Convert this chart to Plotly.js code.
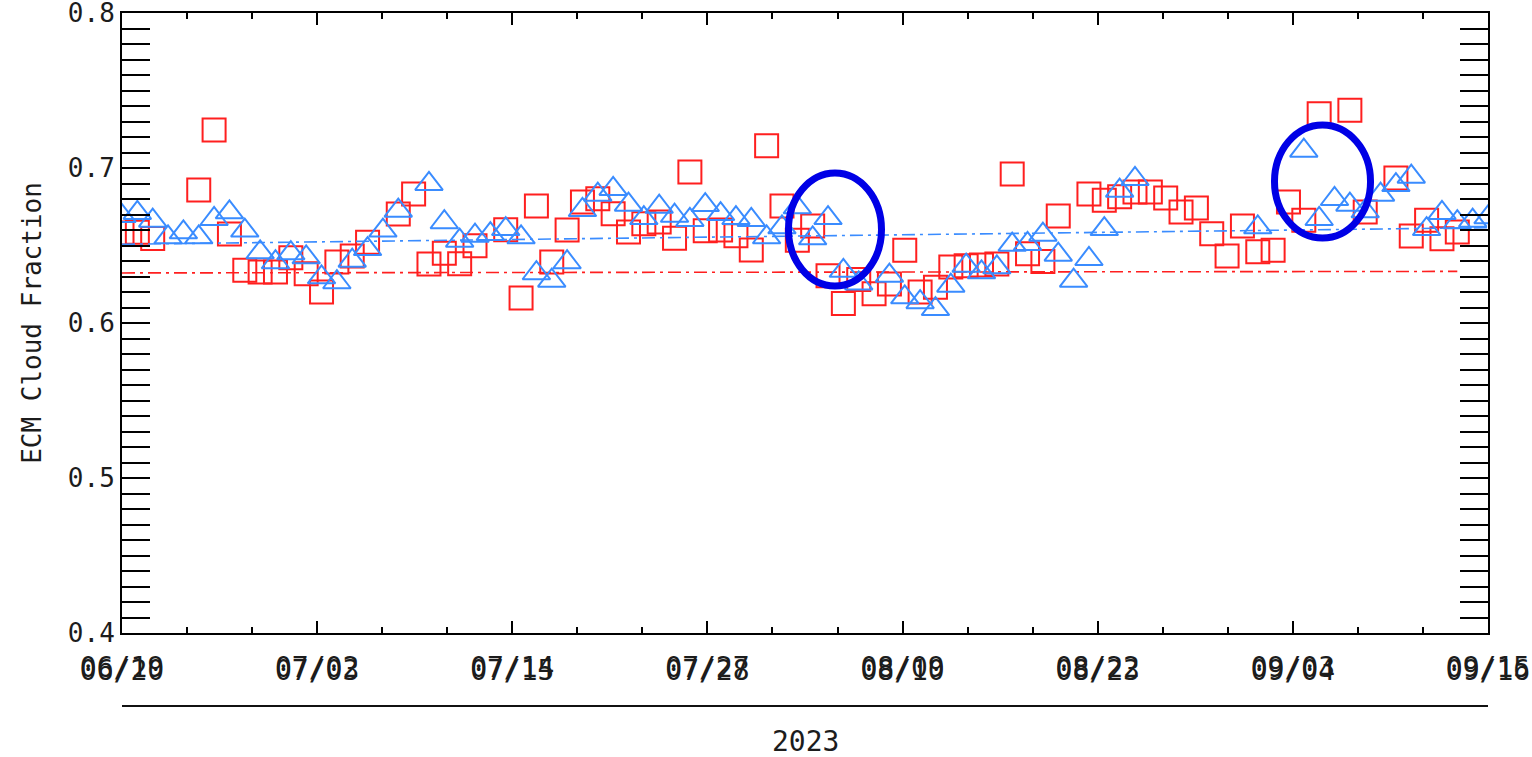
<!DOCTYPE html>
<html>
<head>
<meta charset="utf-8">
<script src="https://cdn.plot.ly/plotly-3.0.1.min.js"></script>
<style>
  html, body { margin: 0; padding: 0; background: #ffffff; }
  #chart { width: 1532px; height: 757px; }
</style>
</head>
<body>
<div id="chart"></div>
<script>
// Daily ECM cloud fraction, one value per day starting at startDate (null = no value that day)
const startDate = '2023-06-19';
const endDate = '2023-09-16';

const squareFrac = [
  0.658, 0.6585, 0.6545, null, null, 0.6858, 0.7245, 0.6574, 0.634, 0.6329,
  0.6329, 0.6421, 0.6318, 0.620, 0.6394, 0.6432, 0.6521, null, 0.6703, 0.6832,
  0.6381, 0.645, 0.6383, 0.6499, null, 0.6602, 0.6161, 0.6755, 0.6394, 0.660,
  0.6781, 0.6802, 0.6705, 0.6587, 0.6641, 0.6652, 0.6546, 0.6974, 0.6595, 0.660,
  0.6563, 0.6471, 0.7144, 0.6755, 0.6534, 0.6626, 0.6305, 0.6125, 0.628, 0.6189,
  0.6252, 0.6469, 0.620, 0.623, 0.6361, 0.637, 0.6374, 0.6381, 0.6961, 0.6447,
  0.6396, 0.669, null, 0.6832, 0.6792, 0.6815, 0.6845, 0.6845, 0.6806, 0.6716,
  0.6742, 0.6576, 0.6432, 0.6626, 0.646, 0.6469, 0.6781, 0.6663, 0.735, null,
  0.7372, 0.6716, null, 0.6935, 0.6561, 0.6663, 0.6544, 0.6587
];

const triangleFrac = [
  0.669, 0.671, 0.666, 0.6553, 0.6585, 0.6553, 0.6671, 0.6714, 0.6596, 0.6456,
  0.6392, 0.645, 0.6424, 0.6295, 0.6263, 0.6402, 0.6477, 0.6596, 0.6725, null,
  0.6897, 0.665, 0.6531, 0.6563, 0.6574, 0.6606, 0.6553, 0.6321, 0.6273, 0.6392,
  0.6729, 0.6828, 0.6865, 0.6763, 0.6677, 0.675, 0.6692, 0.6665, 0.6761, 0.6703,
  0.6677, 0.6665, 0.6553, 0.6617, 0.6746, 0.6546, 0.6677, 0.6337, 0.6255, null,
  0.6305, 0.6166, 0.6134, 0.609, 0.6241, 0.637, 0.6327, 0.6359, 0.6505, 0.651,
  0.657, 0.6441, 0.6273, 0.6413, 0.6606, 0.6854, 0.6929, null, null, null,
  null, null, null, null, 0.6617, null, null, 0.7112, 0.6671, 0.68,
  0.6763, 0.6721, 0.6828, 0.689, 0.6944, 0.6606, 0.671, 0.665, 0.666, 0.6682
];

// Straight-line fits over each series' span (day offsets and fitted values)
const squareTrendDays = [0, 87];
const squareTrend = [0.6323, 0.6333];
const triangleTrendDays = [0, 89];
const triangleTrend = [0.6508, 0.6615];

// Date labels of the two overprinted time axes
const tickLabelsA = ['06/19', '07/02', '07/14', '07/27', '08/09', '08/22', '09/03', '09/15'];
const tickLabelsB = ['06/20', '07/03', '07/15', '07/28', '08/10', '08/23', '09/04', '09/16'];
const yTicks = [0.4, 0.5, 0.6, 0.7, 0.8];
const yearLabel = '2023';
const yTitle = 'ECM Cloud Fraction';

const DAY_MS = 86400000;
const t0 = Date.parse(startDate + 'T00:00:00Z');
const t1 = Date.parse(endDate + 'T00:00:00Z');
const toDate = ms => new Date(ms).toISOString().slice(0, 19).replace('T', ' ');
const dayToDate = d => toDate(t0 + d * DAY_MS);

const squareDates = squareFrac.map((_, i) => dayToDate(i));
const triangleDates = triangleFrac.map((_, i) => dayToDate(i));

// Eight evenly spaced major ticks across the span, two minor ticks between each pair
const nMajor = tickLabelsA.length;
const step = (t1 - t0) / (nMajor - 1);
const majorVals = [];
const minorVals = [];
for (let i = 0; i < nMajor; i++) {
  majorVals.push(toDate(t0 + i * step));
  if (i < nMajor - 1) {
    minorVals.push(toDate(t0 + (i + 1 / 3) * step));
    minorVals.push(toDate(t0 + (i + 2 / 3) * step));
  }
}

const FONT = 'DejaVu Sans Mono';
const INK = '#1c1c1c';
const RED = '#ff1f1f';
const BLUE = '#3a8cff';
const DASHDOT = '13px,5px,3px,5px';

const traces = [
  {
    x: squareDates, y: squareFrac, xaxis: 'x', yaxis: 'y',
    type: 'scatter', mode: 'markers',
    marker: { symbol: 'square-open', size: 23, color: RED, line: { width: 2, color: RED } },
    hoverinfo: 'skip'
  },
  {
    x: triangleDates, y: triangleFrac, xaxis: 'x2', yaxis: 'y',
    type: 'scatter', mode: 'markers',
    marker: { symbol: 'triangle-up-open', size: 24, color: BLUE, line: { width: 2, color: BLUE } },
    hoverinfo: 'skip'
  },
  {
    x: squareTrendDays.map(dayToDate), y: squareTrend, xaxis: 'x', yaxis: 'y',
    type: 'scatter', mode: 'lines',
    line: { color: RED, width: 1.6, dash: DASHDOT },
    hoverinfo: 'skip'
  },
  {
    x: triangleTrendDays.map(dayToDate), y: triangleTrend, xaxis: 'x2', yaxis: 'y',
    type: 'scatter', mode: 'lines',
    line: { color: BLUE, width: 1.6, dash: DASHDOT },
    hoverinfo: 'skip'
  }
];

const xRange = [toDate(t0), toDate(t1)];
const tickFontX = { family: FONT, size: 28, color: INK };
const tickFontY = { family: FONT, size: 26, color: INK };

const layout = {
  width: 1532,
  height: 757,
  margin: { l: 122, r: 44, t: 13, b: 124, pad: 0 },
  paper_bgcolor: '#ffffff',
  plot_bgcolor: '#ffffff',
  showlegend: false,
  xaxis: {
    type: 'date', range: xRange, fixedrange: true,
    tickmode: 'array', tickvals: majorVals, ticktext: tickLabelsA,
    ticks: 'inside', ticklen: 12, tickwidth: 2, tickcolor: '#000',
    showline: true, linewidth: 2, linecolor: '#000', mirror: 'allticks',
    showgrid: false, zeroline: false,
    tickfont: tickFontX, ticklabelstandoff: 8, ticklabeloverflow: 'allow',
    minor: { tickmode: 'array', tickvals: minorVals, ticks: 'inside', ticklen: 6, tickwidth: 2, tickcolor: '#000', showgrid: false }
  },
  xaxis2: {
    type: 'date', range: xRange, fixedrange: true,
    overlaying: 'x', anchor: 'y', side: 'bottom',
    tickmode: 'array', tickvals: majorVals, ticktext: tickLabelsB,
    ticks: '', showline: false, showgrid: false, zeroline: false,
    tickfont: tickFontX, ticklabelstandoff: 18, ticklabeloverflow: 'allow'
  },
  yaxis: {
    range: [0.4, 0.8], fixedrange: true,
    tickmode: 'array', tickvals: yTicks, tickformat: '.1f',
    ticks: 'inside', ticklen: 28, tickwidth: 2, tickcolor: '#000',
    showline: true, linewidth: 2, linecolor: '#000', mirror: 'allticks',
    showgrid: false, zeroline: false,
    tickfont: tickFontY, ticklabelstandoff: 0, ticklabeloverflow: 'allow',
    minor: { tick0: 0.4, dtick: 0.01, ticks: 'inside', ticklen: 14, tickwidth: 2, tickcolor: '#000', showgrid: false },
    title: { text: yTitle, font: { family: FONT, size: 26, color: INK }, standoff: 19 }
  },
  shapes: [
    // year axis line under the date labels
    { type: 'line', xref: 'paper', yref: 'paper', x0: 0, x1: 1, y0: -0.1177, y1: -0.1177,
      line: { color: '#111', width: 2 } },
    // highlighted periods
    { type: 'circle', xref: 'paper', yref: 'paper', x0: 0.4879, x1: 0.5560, y0: 0.5597, y1: 0.7419,
      line: { color: 'rgb(0,0,230)', width: 7 } },
    { type: 'circle', xref: 'paper', yref: 'paper', x0: 0.8437, x1: 0.9140, y0: 0.6371, y1: 0.8194,
      line: { color: 'rgb(0,0,230)', width: 7 } }
  ],
  annotations: [
    { text: yearLabel, xref: 'paper', yref: 'paper', x: 0.5, y: -0.1758,
      xanchor: 'center', yanchor: 'middle', showarrow: false,
      font: { family: FONT, size: 28, color: INK } }
  ]
};

Plotly.newPlot('chart', traces, layout, { displayModeBar: false, staticPlot: true });
</script>
</body>
</html>
